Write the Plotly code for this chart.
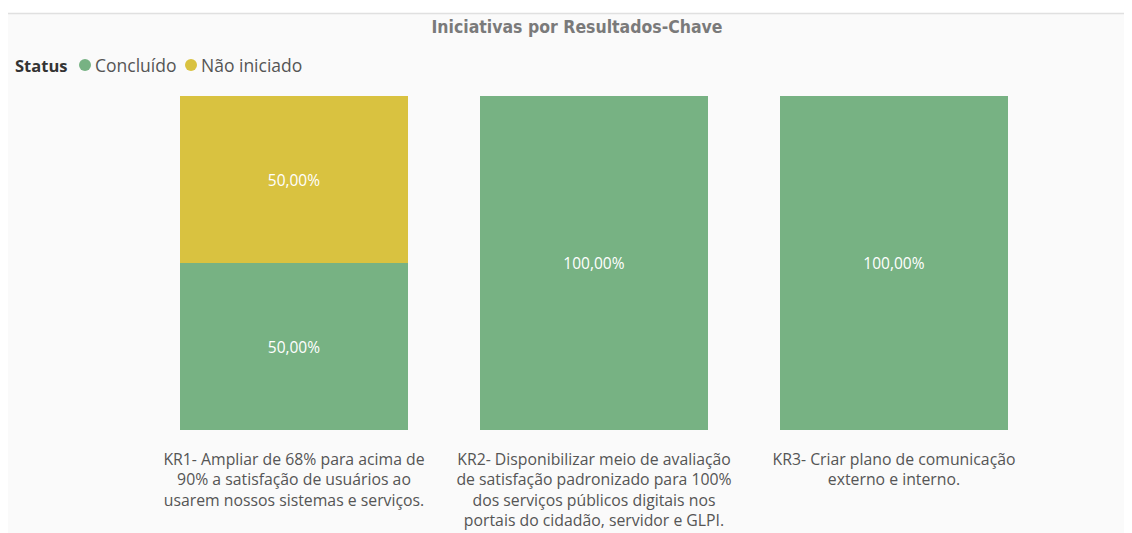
import plotly.graph_objects as go

categories = [
    "KR1- Ampliar de 68% para acima de<br>90% a satisfação de usuários ao<br>usarem nossos sistemas e serviços.",
    "KR2- Disponibilizar meio de avaliação<br>de satisfação padronizado para 100%<br>dos serviços públicos digitais nos<br>portais do cidadão, servidor e GLPI.",
    "KR3- Criar plano de comunicação<br>externo e interno.",
]
concluido = [50.0, 100.0, 100.0]
nao_iniciado = [50.0, 0.0, 0.0]
series_names = ["Concluído", "Não iniciado"]
colors = ["#77B283", "#D9C240"]

# page body has an 8px margin; figure sized to fill the rest
W, H = 1124, 525
L, R, T, B = 136, 88, 88, 103
pw, ph = W - L - R, H - T - B

def px_x(p):
    return (p - L) / pw

def px_y(p):
    return (H - B - p) / ph

fig = go.Figure()
for name, vals, col in [(series_names[0], concluido, colors[0]), (series_names[1], nao_iniciado, colors[1])]:
    fig.add_trace(go.Bar(
        x=categories, y=vals, name=name, marker=dict(color=col, line=dict(width=0)),
        texttemplate=["%{y:.2f}%" if v > 0 else "" for v in vals],
        textposition="inside", insidetextanchor="middle",
        textfont=dict(color="white", size=15.5, family="Open Sans"),
        showlegend=False, hoverinfo="skip",
    ))

# legend drawn as shapes + annotations
leg_y = 57
annotations = [
    dict(text="<b>Status</b>", xref="paper", yref="paper", x=px_x(5), y=px_y(leg_y),
         xanchor="left", yanchor="middle", showarrow=False,
         font=dict(size=16.5, color="#333333", family="Open Sans")),
]
shapes = [
    dict(type="rect", xref="paper", yref="paper", x0=px_x(-5), x1=px_x(W + 5), y0=px_y(5.5), y1=px_y(-10),
         fillcolor="white", line=dict(width=0), layer="below"),
    dict(type="line", xref="paper", yref="paper", x0=px_x(0), x1=px_x(W + 5), y0=px_y(5.5), y1=px_y(5.5),
         line=dict(color="#e0e0e0", width=1.5), layer="below"),
]
circle_x = [77, 183]
for name, col, cx in zip(series_names, colors, circle_x):
    shapes.append(dict(type="circle", xref="paper", yref="paper", xsizemode="pixel", ysizemode="pixel",
                       xanchor=px_x(cx), yanchor=px_y(leg_y), x0=-6, x1=6, y0=-6, y1=6,
                       fillcolor=col, line=dict(width=0)))
    annotations.append(dict(text=name, xref="paper", yref="paper", x=px_x(cx + 8), y=px_y(leg_y),
                            xanchor="left", yanchor="middle", showarrow=False,
                            font=dict(size=17.5, color="#555555", family="Open Sans")))

fig.update_layout(
    width=W, height=H,
    margin=dict(l=L, r=R, t=T, b=B),
    barmode="stack", bargap=0.243,
    separators=",.",
    showlegend=False,
    paper_bgcolor="#fafafa", plot_bgcolor="rgba(0,0,0,0)",
    title=dict(text="<b>Iniciativas por Resultados-Chave</b>", x=569 / W, xanchor="center",
               y=1 - 19 / H, yanchor="middle", yref="container",
               font=dict(size=17.5, color="#7a7a7a", family="DejaVu Sans Condensed")),
    annotations=annotations,
    shapes=shapes,
    xaxis=dict(showgrid=False, zeroline=False, showline=False, ticks="", automargin=False,
               ticklabelstandoff=18,
               tickfont=dict(size=15.8, color="#555555", family="Open Sans")),
    yaxis=dict(range=[0, 100], visible=False, showgrid=False, automargin=False),
)

fig.write_html("out.html")
